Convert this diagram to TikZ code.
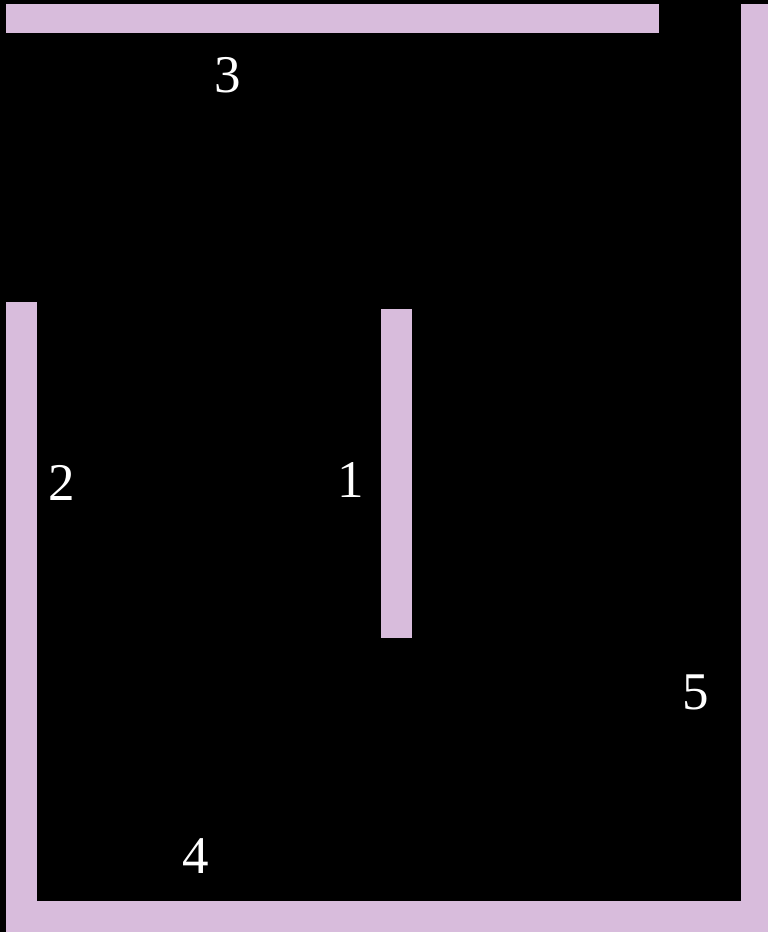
\documentclass[tikz,border=0pt]{standalone}
\usepackage{fontspec}
\setmainfont{Liberation Serif}
\definecolor{wallpink}{RGB}{216,188,220}

\begin{document}
\begin{tikzpicture}[x=1pt, y=-1pt, wall/.style = {fill=wallpink}, num/.style = {text=white, inner sep=0pt, anchor=base, font=\fontsize{53}{56}\selectfont}]
            \fill[black] (0,0) rectangle (768,932);
            \useasboundingbox (0,0) rectangle (768,932);

            % walls
            \fill[wall] (6,4) rectangle (659,33);
            \fill[wall] (741,4) rectangle (768,932);
            \fill[wall] (6,302) rectangle (37,932);
            \fill[wall] (381,309) rectangle (412,638);
            \fill[wall] (6,901) rectangle (768,932);

            \node[num] (n1) at (351,497) {1};
            \node[num] (n2) at (62,500) {2};
            \node[num] (n3) at (228,92) {3};
            \node[num] (n4) at (196,873) {4};
            \node[num] (n5) at (696,709) {5};
        \end{tikzpicture}
\end{document}
